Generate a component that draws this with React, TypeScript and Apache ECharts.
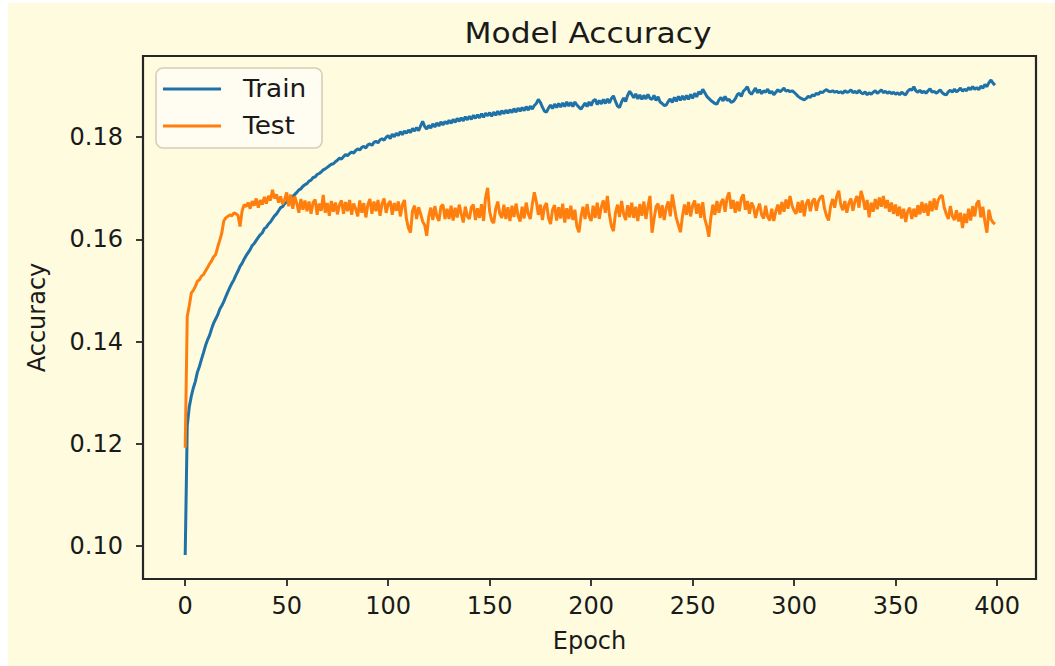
import React, { useEffect, useRef } from "react";
import * as echarts from "echarts";

const chartTitle = "Model Accuracy";
const xAxisName = "Epoch";
const yAxisName = "Accuracy";
const seriesNames = ["Train", "Test"];
const xTicks = [0, 50, 100, 150, 200, 250, 300, 350, 400];
const yTicks = [0.1, 0.12, 0.14, 0.16, 0.18];

const trainAcc = [
  0.0982, 0.1235, 0.1272, 0.1293, 0.1309, 0.1322, 0.1340, 0.1351, 0.1365, 0.1378,
  0.1392, 0.1403, 0.1412, 0.1425, 0.1436, 0.1444, 0.1452, 0.1463, 0.1470, 0.1478,
  0.1488, 0.1497, 0.1506, 0.1514, 0.1521, 0.1530, 0.1538, 0.1547, 0.1553, 0.1561,
  0.1568, 0.1574, 0.1580, 0.1588, 0.1592, 0.1598, 0.1604, 0.1609, 0.1613, 0.1621,
  0.1624, 0.1630, 0.1634, 0.1640, 0.1646, 0.1650, 0.1656, 0.1662, 0.1664, 0.1670,
  0.1673, 0.1677, 0.1680, 0.1684, 0.1688, 0.1692, 0.1697, 0.1699, 0.1704, 0.1707,
  0.1709, 0.1714, 0.1716, 0.1721, 0.1722, 0.1727, 0.1729, 0.1732, 0.1736, 0.1738,
  0.1741, 0.1744, 0.1747, 0.1748, 0.1752, 0.1755, 0.1759, 0.1757, 0.1762, 0.1766,
  0.1764, 0.1768, 0.1771, 0.1769, 0.1774, 0.1777, 0.1775, 0.1780, 0.1782, 0.1779,
  0.1785, 0.1787, 0.1784, 0.1790, 0.1792, 0.1789, 0.1795, 0.1797, 0.1794, 0.1800,
  0.1803, 0.1797, 0.1806, 0.1801, 0.1808, 0.1803, 0.1811, 0.1805, 0.1812, 0.1808,
  0.1814, 0.1809, 0.1817, 0.1812, 0.1819, 0.1813, 0.1822, 0.1831, 0.1821, 0.1816,
  0.1823, 0.1818, 0.1826, 0.1820, 0.1828, 0.1822, 0.1830, 0.1824, 0.1831, 0.1826,
  0.1833, 0.1827, 0.1835, 0.1829, 0.1837, 0.1831, 0.1838, 0.1832, 0.1840, 0.1834,
  0.1841, 0.1835, 0.1843, 0.1837, 0.1844, 0.1838, 0.1846, 0.1839, 0.1847, 0.1842,
  0.1848, 0.1841, 0.1849, 0.1843, 0.1851, 0.1844, 0.1852, 0.1846, 0.1853, 0.1847,
  0.1854, 0.1848, 0.1856, 0.1849, 0.1857, 0.1851, 0.1858, 0.1852, 0.1860, 0.1853,
  0.1861, 0.1855, 0.1862, 0.1866, 0.1874, 0.1868, 0.1859, 0.1851, 0.1849, 0.1857,
  0.1863, 0.1856, 0.1865, 0.1858, 0.1866, 0.1859, 0.1867, 0.1860, 0.1869, 0.1861,
  0.1868, 0.1860, 0.1869, 0.1863, 0.1859, 0.1855, 0.1861, 0.1867, 0.1860, 0.1869,
  0.1862, 0.1871, 0.1874, 0.1864, 0.1872, 0.1865, 0.1874, 0.1866, 0.1875, 0.1867,
  0.1876, 0.1881, 0.1870, 0.1861, 0.1858, 0.1869, 0.1877, 0.1870, 0.1882, 0.1890,
  0.1884, 0.1877, 0.1885, 0.1875, 0.1883, 0.1874, 0.1882, 0.1875, 0.1884, 0.1876,
  0.1874, 0.1882, 0.1872, 0.1879, 0.1869, 0.1866, 0.1862, 0.1863, 0.1870, 0.1875,
  0.1868, 0.1878, 0.1870, 0.1880, 0.1872, 0.1881, 0.1873, 0.1882, 0.1874, 0.1884,
  0.1876, 0.1886, 0.1879, 0.1889, 0.1884, 0.1894, 0.1887, 0.1880, 0.1876, 0.1872,
  0.1869, 0.1866, 0.1865, 0.1873, 0.1878, 0.1871, 0.1880, 0.1872, 0.1874, 0.1868,
  0.1870, 0.1875, 0.1883, 0.1886, 0.1880, 0.1890, 0.1894, 0.1899, 0.1888, 0.1884,
  0.1890, 0.1896, 0.1887, 0.1893, 0.1885, 0.1891, 0.1888, 0.1894, 0.1886, 0.1890,
  0.1883, 0.1888, 0.1893, 0.1889, 0.1892, 0.1896, 0.1890, 0.1892, 0.1889, 0.1891,
  0.1888, 0.1884, 0.1880, 0.1877, 0.1875, 0.1873, 0.1876, 0.1880, 0.1878, 0.1883,
  0.1881, 0.1886, 0.1884, 0.1889, 0.1887, 0.1891, 0.1893, 0.1890, 0.1889, 0.1891,
  0.1888, 0.1890, 0.1887, 0.1889, 0.1886, 0.1891, 0.1888, 0.1889, 0.1893, 0.1887,
  0.1890, 0.1886, 0.1892, 0.1887, 0.1885, 0.1889, 0.1883, 0.1887, 0.1884, 0.1888,
  0.1891, 0.1886, 0.1889, 0.1893, 0.1887, 0.1890, 0.1886, 0.1889, 0.1885, 0.1888,
  0.1884, 0.1887, 0.1883, 0.1888, 0.1885, 0.1883, 0.1890, 0.1894, 0.1892, 0.1899,
  0.1891, 0.1888, 0.1892, 0.1887, 0.1890, 0.1886, 0.1891, 0.1895, 0.1888, 0.1890,
  0.1886, 0.1889, 0.1893, 0.1887, 0.1884, 0.1883, 0.1889, 0.1892, 0.1888, 0.1894,
  0.1889, 0.1892, 0.1896, 0.1890, 0.1894, 0.1891, 0.1897, 0.1893, 0.1899, 0.1894,
  0.1897, 0.1893, 0.1900, 0.1896, 0.1903, 0.1899, 0.1907, 0.1912, 0.1906, 0.1902,
];

const testAcc = [
  0.1192, 0.1449, 0.1470, 0.1495, 0.1500, 0.1508, 0.1518, 0.1521, 0.1528, 0.1531,
  0.1538, 0.1545, 0.1552, 0.1558, 0.1566, 0.1570, 0.1585, 0.1598, 0.1612, 0.1636,
  0.1642, 0.1645, 0.1648, 0.1646, 0.1652, 0.1650, 0.1647, 0.1625, 0.1655, 0.1668,
  0.1664, 0.1672, 0.1660, 0.1675, 0.1666, 0.1680, 0.1662, 0.1677, 0.1668, 0.1683,
  0.1670, 0.1685, 0.1676, 0.1697, 0.1680, 0.1688, 0.1672, 0.1684, 0.1669, 0.1678,
  0.1692, 0.1665, 0.1688, 0.1660, 0.1684, 0.1670, 0.1652, 0.1679, 0.1658, 0.1676,
  0.1655, 0.1674, 0.1650, 0.1672, 0.1678, 0.1648, 0.1670, 0.1656, 0.1687, 0.1652,
  0.1671, 0.1646, 0.1675, 0.1654, 0.1672, 0.1649, 0.1668, 0.1676, 0.1650, 0.1673,
  0.1655, 0.1677, 0.1648, 0.1670, 0.1660, 0.1645, 0.1676, 0.1652, 0.1671, 0.1643,
  0.1668, 0.1679, 0.1650, 0.1674, 0.1655, 0.1677, 0.1646, 0.1670, 0.1680, 0.1652,
  0.1669, 0.1675, 0.1648, 0.1671, 0.1656, 0.1674, 0.1645, 0.1668, 0.1677, 0.1640,
  0.1622, 0.1613, 0.1656, 0.1666, 0.1640, 0.1663, 0.1650, 0.1635, 0.1628, 0.1607,
  0.1645, 0.1662, 0.1638, 0.1665, 0.1645, 0.1636, 0.1664, 0.1668, 0.1640, 0.1660,
  0.1640, 0.1666, 0.1637, 0.1662, 0.1643, 0.1668, 0.1650, 0.1633, 0.1664, 0.1645,
  0.1640, 0.1663, 0.1668, 0.1638, 0.1661, 0.1642, 0.1669, 0.1636, 0.1682, 0.1701,
  0.1655, 0.1637, 0.1632, 0.1660, 0.1674, 0.1650, 0.1642, 0.1668, 0.1640, 0.1663,
  0.1636, 0.1666, 0.1644, 0.1670, 0.1646, 0.1635, 0.1664, 0.1641, 0.1672, 0.1650,
  0.1640, 0.1668, 0.1692, 0.1674, 0.1648, 0.1668, 0.1638, 0.1664, 0.1671, 0.1642,
  0.1630, 0.1658, 0.1667, 0.1637, 0.1663, 0.1641, 0.1670, 0.1633, 0.1661, 0.1640,
  0.1666, 0.1638, 0.1658, 0.1625, 0.1614, 0.1644, 0.1664, 0.1640, 0.1669, 0.1645,
  0.1636, 0.1666, 0.1642, 0.1672, 0.1640, 0.1663, 0.1676, 0.1652, 0.1685, 0.1648,
  0.1626, 0.1616, 0.1652, 0.1668, 0.1644, 0.1675, 0.1650, 0.1638, 0.1667, 0.1643,
  0.1672, 0.1642, 0.1664, 0.1636, 0.1669, 0.1646, 0.1674, 0.1640, 0.1665, 0.1685,
  0.1613, 0.1640, 0.1664, 0.1670, 0.1642, 0.1667, 0.1638, 0.1662, 0.1674, 0.1645,
  0.1688, 0.1664, 0.1641, 0.1628, 0.1614, 0.1645, 0.1668, 0.1648, 0.1673, 0.1645,
  0.1666, 0.1676, 0.1650, 0.1670, 0.1642, 0.1673, 0.1640, 0.1626, 0.1605, 0.1643,
  0.1668, 0.1648, 0.1675, 0.1652, 0.1672, 0.1679, 0.1654, 0.1682, 0.1692, 0.1660,
  0.1677, 0.1652, 0.1674, 0.1655, 0.1680, 0.1688, 0.1658, 0.1675, 0.1650, 0.1672,
  0.1664, 0.1642, 0.1658, 0.1670, 0.1648, 0.1641, 0.1666, 0.1644, 0.1637, 0.1660,
  0.1636, 0.1655, 0.1668, 0.1649, 0.1673, 0.1654, 0.1678, 0.1660, 0.1685, 0.1666,
  0.1656, 0.1650, 0.1673, 0.1652, 0.1676, 0.1645, 0.1670, 0.1678, 0.1655, 0.1674,
  0.1680, 0.1656, 0.1675, 0.1682, 0.1686, 0.1660, 0.1646, 0.1637, 0.1665, 0.1679,
  0.1662, 0.1684, 0.1695, 0.1668, 0.1657, 0.1675, 0.1652, 0.1671, 0.1680, 0.1656,
  0.1675, 0.1685, 0.1662, 0.1695, 0.1680, 0.1658, 0.1677, 0.1643, 0.1672, 0.1654,
  0.1679, 0.1659, 0.1682, 0.1664, 0.1685, 0.1661, 0.1677, 0.1654, 0.1672, 0.1650,
  0.1668, 0.1646, 0.1664, 0.1641, 0.1660, 0.1634, 0.1655, 0.1662, 0.1640, 0.1660,
  0.1644, 0.1667, 0.1649, 0.1673, 0.1652, 0.1670, 0.1646, 0.1675, 0.1655, 0.1680,
  0.1658, 0.1677, 0.1684, 0.1686, 0.1662, 0.1650, 0.1640, 0.1665, 0.1645, 0.1638,
  0.1657, 0.1635, 0.1652, 0.1622, 0.1650, 0.1632, 0.1660, 0.1637, 0.1665, 0.1645,
  0.1670, 0.1676, 0.1643, 0.1664, 0.1635, 0.1613, 0.1658, 0.1640, 0.1633, 0.1630,
];

const COLORS = ["#1f72a8", "#ff7f0e"];
const FONT = "DejaVu Sans";
const TEXT = "#1a1a1a";

export default function App() {
  const ref = useRef<HTMLDivElement>(null);

  useEffect(() => {
    if (!ref.current) return;
    const chart = echarts.init(ref.current, undefined, { renderer: "svg" });
    const trainData = trainAcc.map((v, i) => [i, v]);
    const testData = testAcc.map((v, i) => [i, v]);

    chart.setOption({
      animation: false,
      backgroundColor: "#fefbdf",
      textStyle: { fontFamily: FONT },
      grid: {
        left: 135,
        top: 53,
        right: 19,
        bottom: 87,
        show: true,
        backgroundColor: "transparent",
        borderColor: "#262626",
        borderWidth: 2.2,
      },
      xAxis: {
        type: "value",
        min: -20.8,
        max: 419.2,
        name: xAxisName,
        nameLocation: "middle",
        nameGap: 50,
        nameTextStyle: { fontFamily: FONT, fontSize: 24, color: TEXT },
        axisLine: { show: false, onZero: false },
        splitLine: { show: false },
        axisTick: {
          show: true,
          length: 7,
          customValues: xTicks,
          lineStyle: { color: "#262626", width: 1.8 },
        },
        axisLabel: {
          customValues: xTicks,
          fontFamily: FONT,
          fontSize: 24,
          color: TEXT,
          margin: 15,
        },
      },
      yAxis: {
        type: "value",
        min: 0.0935,
        max: 0.1959,
        name: yAxisName,
        nameLocation: "middle",
        nameRotate: 90,
        nameGap: 94,
        nameTextStyle: { fontFamily: FONT, fontSize: 24, color: TEXT },
        axisLine: { show: false, onZero: false },
        splitLine: { show: false },
        axisTick: {
          show: true,
          length: 7,
          customValues: yTicks,
          lineStyle: { color: "#262626", width: 1.8 },
        },
        axisLabel: {
          customValues: yTicks,
          fontFamily: FONT,
          fontSize: 24,
          color: TEXT,
          margin: 20,
          formatter: (v: number) => v.toFixed(2),
        },
      },
      series: [
        {
          name: seriesNames[0],
          type: "line",
          data: trainData,
          showSymbol: false,
          symbol: "none",
          lineStyle: { color: COLORS[0], width: 3 },
          itemStyle: { color: COLORS[0] },
        },
        {
          name: seriesNames[1],
          type: "line",
          data: testData,
          showSymbol: false,
          symbol: "none",
          lineStyle: { color: COLORS[1], width: 3 },
          itemStyle: { color: COLORS[1] },
        },
      ],
      graphic: [
        {
          type: "text",
          x: 580,
          y: 30,
          scaleX: 1.08,
          style: {
            text: chartTitle,
            fontFamily: FONT,
            fontSize: 29,
            fill: TEXT,
            align: "center",
            verticalAlign: "middle",
          },
        },
        {
          type: "group",
          x: 148,
          y: 65,
          children: [
            {
              type: "rect",
              shape: { x: 0, y: 0, width: 166, height: 80, r: 7 },
              style: {
                fill: "rgba(255,255,255,0.55)",
                stroke: "#d8cdb8",
                lineWidth: 1.6,
              },
            },
            {
              type: "line",
              shape: { x1: 7, y1: 21, x2: 65, y2: 21 },
              style: { stroke: COLORS[0], lineWidth: 3 },
            },
            {
              type: "text",
              x: 87,
              y: 21,
              scaleX: 1.1,
              style: {
                text: seriesNames[0],
                fontFamily: FONT,
                fontSize: 24,
                fill: TEXT,
                align: "left",
                verticalAlign: "middle",
              },
            },
            {
              type: "line",
              shape: { x1: 7, y1: 58, x2: 65, y2: 58 },
              style: { stroke: COLORS[1], lineWidth: 3 },
            },
            {
              type: "text",
              x: 87,
              y: 58,
              scaleX: 1.1,
              style: {
                text: seriesNames[1],
                fontFamily: FONT,
                fontSize: 24,
                fill: TEXT,
                align: "left",
                verticalAlign: "middle",
              },
            },
          ],
        },
      ],
    });

    return () => chart.dispose();
  }, []);

  return (
    <div
      style={{
        position: "fixed",
        left: 0,
        top: 0,
        width: 1055,
        height: 666,
        background: "#ffffff",
      }}
    >
      <div
        ref={ref}
        style={{ position: "absolute", left: 8, top: 3, width: 1047, height: 663 }}
      />
    </div>
  );
}
